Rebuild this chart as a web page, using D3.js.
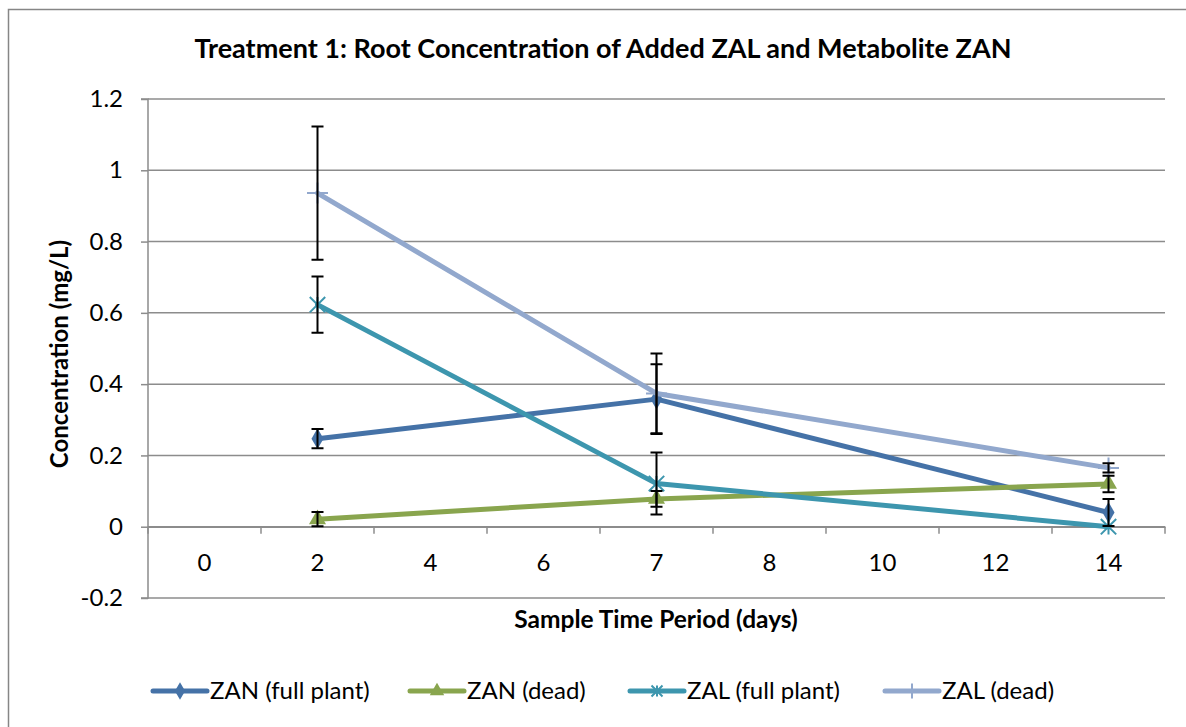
<!DOCTYPE html>
<html><head><meta charset="utf-8">
<script src="https://cdn.jsdelivr.net/npm/d3@7"></script>
<style>body{margin:0;background:#fff}svg{display:block}text{font-family:Lato,"Open Sans",sans-serif}</style>
</head><body><svg id="c" width="1186" height="727"></svg>
<script>
const categories = ["0","2","4","6","7","8","10","12","14"];
const yTicks = [-0.2,0,0.2,0.4,0.6,0.8,1,1.2];
const seriesNames = ["ZAN (full plant)","ZAN (dead)","ZAL (full plant)","ZAL (dead)"];
const seriesColors = ["#4572A7","#89A54E","#3D96AE","#92A8CD"];
const seriesMarkers = ["diamond","triangle","star","plus"];
const pointDays = ["2","7","14"];
const zanFull = [0.247,0.358,0.04];
const zanFullErr = [0.027,0.098,0.038];
const zanDead = [0.021,0.078,0.12];
const zanDeadErr = [0.02,0.022,0.023];
const zalFull = [0.623,0.121,0.0];
const zalFullErr = [0.079,0.087,0.0];
const zalDead = [0.936,0.374,0.165];
const zalDeadErr = [0.187,0.112,0.013];

const seriesVals = [zanFull,zanDead,zalFull,zalDead];
const seriesErr = [zanFullErr,zanDeadErr,zalFullErr,zalDeadErr];

const svg = d3.select("#c");
const L=148,R=1165,T=99,B=598;
const x = d3.scaleBand().domain(categories).range([L,R]);
const y = d3.scaleLinear().domain([-0.2,1.2]).range([B,T]);

// outer border
svg.append("path").attr("d","M8.5,727 V9.5 H1186").attr("fill","none").attr("stroke","#868686").attr("stroke-width",1.5);

// title
svg.append("text").attr("x",603).attr("y",58).attr("text-anchor","middle")
  .attr("font-weight","bold").attr("font-size",27).text("Treatment 1: Root Concentration of Added ZAL and Metabolite ZAN");

// gridlines
svg.append("g").selectAll("line").data(yTicks).join("line")
  .attr("x1",L).attr("x2",R).attr("y1",d=>y(d)).attr("y2",d=>y(d))
  .attr("stroke","#8c8c8c").attr("stroke-width",1.5);

// y axis
const ya = svg.append("g").attr("transform",`translate(${L},0)`)
  .call(d3.axisLeft(y).tickValues(yTicks).tickSize(7).tickPadding(18).tickFormat(d=>d3.format("")(d).replace("−","-")));
ya.select(".domain").attr("stroke","#8c8c8c").attr("stroke-width",1.5).attr("d",`M-7,${T}H0V${B}H-7`);
ya.selectAll(".tick line").attr("stroke","#8c8c8c").attr("stroke-width",1.5);
ya.selectAll(".tick text").attr("font-size",24).attr("fill","#000").style("font-family","Lato,sans-serif");

// x axis at zero
const xa = svg.append("g").attr("transform",`translate(0,${y(0)})`)
  .call(d3.axisBottom(x).tickSize(0).tickPadding(27));
xa.select(".domain").attr("stroke","#8c8c8c").attr("stroke-width",1.5);
xa.selectAll(".tick text").attr("font-size",24).attr("fill","#000").style("font-family","Lato,sans-serif");
xa.selectAll("line.bnd").data(d3.range(categories.length+1)).join("line").attr("class","bnd")
  .attr("x1",i=>L+i*x.step()).attr("x2",i=>L+i*x.step()).attr("y1",0).attr("y2",7)
  .attr("stroke","#8c8c8c").attr("stroke-width",1.5);

// axis titles
svg.append("text").attr("x",656).attr("y",628).attr("text-anchor","middle").attr("font-weight","bold").attr("font-size",24.5).text("Sample Time Period (days)");
svg.append("text").attr("transform","translate(68,354) rotate(-90)").attr("text-anchor","middle").attr("font-weight","bold").attr("font-size",24).text("Concentration (mg/L)");

const cx = d=>x(d)+x.bandwidth()/2;
function marker(g,type,color,s){
  if(type==="diamond") g.append("path").attr("d",d3.symbol(d3.symbolDiamond,s*9)).attr("fill",color);
  else if(type==="triangle") g.append("path").attr("d",d3.symbol(d3.symbolTriangle,s*9)).attr("fill",color);
  else if(type==="star"){ const r=s*0.55; g.append("path").attr("d",`M${-r},${-r}L${r},${r}M${-r},${r}L${r},${-r}M0,${-r}V${r}`).attr("stroke",color).attr("stroke-width",2); }
  else { const r=s*0.75; g.append("path").attr("d",`M${-r},0H${r}M0,${-r}V${r}`).attr("stroke",color).attr("stroke-width",2); }
}

const line = d3.line().x(d=>cx(d[0])).y(d=>y(d[1]));
seriesVals.forEach((vals,si)=>{
  const pts = pointDays.map((d,i)=>[d,vals[i]]);
  const g = svg.append("g");
  g.append("path").attr("d",line(pts)).attr("fill","none").attr("stroke",seriesColors[si]).attr("stroke-width",5).attr("stroke-linejoin","round").attr("stroke-linecap","round");
  pts.forEach(p=>{ const m=g.append("g").attr("transform",`translate(${cx(p[0])},${y(p[1])})`); marker(m,seriesMarkers[si],seriesColors[si],14); });
});
// error bars
seriesVals.forEach((vals,si)=>{
  const g = svg.append("g");
  pointDays.forEach((d,i)=>{
    const e=seriesErr[si][i]; if(!e) return;
    const X=cx(d), y1=y(vals[i]+e), y2=y(vals[i]-e);
    g.append("path").attr("d",`M${X},${y1}V${y2}M${X-6},${y1}H${X+6}M${X-6},${y2}H${X+6}`).attr("stroke","#000").attr("stroke-width",2).attr("fill","none");
  });
});

// legend
const legX = [153,410,630,885];
seriesNames.forEach((n,i)=>{
  const g = svg.append("g").attr("transform",`translate(${legX[i]},691)`);
  g.append("line").attr("x1",0).attr("x2",54).attr("stroke",seriesColors[i]).attr("stroke-width",5).attr("stroke-linecap","round");
  const m=g.append("g").attr("transform","translate(27,0)"); marker(m,seriesMarkers[i],seriesColors[i],10);
  g.append("text").attr("x",57).attr("y",8).attr("font-size",24).text(n);
});
</script></body></html>
